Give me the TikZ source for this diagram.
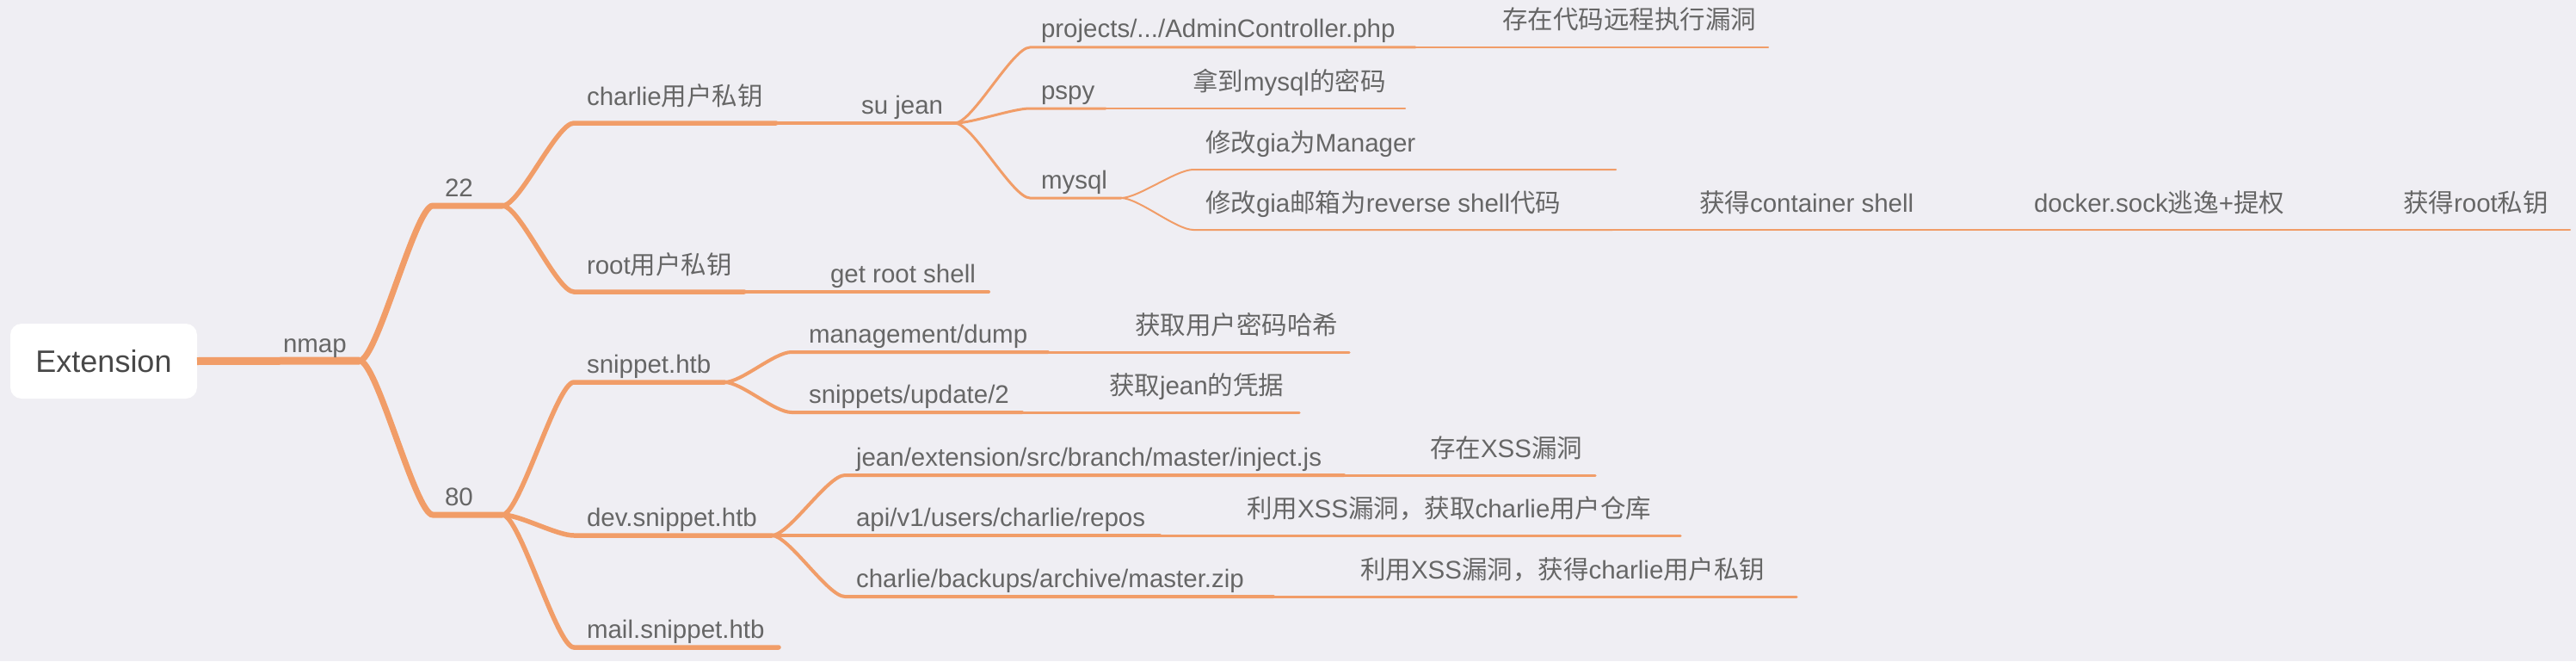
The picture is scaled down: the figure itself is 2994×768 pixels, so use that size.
\documentclass[tikz,border=0pt]{standalone}
\usepackage{fontspec}
\setmainfont{Liberation Sans}
\newfontfamily\cjk{Noto Sans CJK SC}
\newcommand\zhs[1]{{\cjk #1}}
\definecolor{bg}{RGB}{239,238,243}
\definecolor{br}{RGB}{241,157,104}
\definecolor{tx}{RGB}{102,102,102}
\definecolor{txd}{RGB}{72,72,72}
\begin{document}
\begin{tikzpicture}[x=1pt,y=-1pt,
  every node/.style={inner sep=0pt,outer sep=0pt},
  lab/.style={anchor=base west,text=tx,font=\fontsize{29.5}{32}\selectfont},
  rootbox/.style={fill=white,rounded corners=13pt,minimum width=217pt,minimum height=87pt,text=txd,font=\fontsize{36}{40}\selectfont},
  l1/.style={draw=br,line width=9pt,line cap=butt},
  l2/.style={draw=br,line width=7pt,line cap=round},
  l3/.style={draw=br,line width=5.5pt,line cap=round},
  l4/.style={draw=br,line width=4pt,line cap=round},
  l5/.style={draw=br,line width=3pt,line cap=round},
  l6/.style={draw=br,line width=2pt,line cap=round},
  bend/.style={}
]
\fill[bg] (0,0) rectangle (2994,768);
\useasboundingbox (0,0) rectangle (2994,768);

% coordinates
\coordinate (nmap-e) at (418,419);
\coordinate (p22-s) at (503,239); \coordinate (p22-e) at (584,239);
\coordinate (p80-s) at (503,598); \coordinate (p80-e) at (584,598);
\coordinate (ch-s) at (667,143); \coordinate (ch-e) at (902,143);
\coordinate (rt-s) at (667,339); \coordinate (rt-e) at (865,339);
\coordinate (sn-s) at (667,444); \coordinate (sn-e) at (842,444);
\coordinate (dv-s) at (667,622); \coordinate (dv-e) at (897,622);
\coordinate (ml-s) at (667,752); \coordinate (ml-e) at (905,752);
\coordinate (sj-e) at (1110,143);
\coordinate (gr-e) at (1149,339);
\coordinate (md-s) at (920,409); \coordinate (md-e) at (1218,409);
\coordinate (su-s) at (920,479); \coordinate (su-e) at (1188,479);
\coordinate (ij-s) at (982,552); \coordinate (ij-e) at (1562,552);
\coordinate (ap-s) at (982,622); \coordinate (ap-e) at (1348,622);
\coordinate (bk-s) at (982,693); \coordinate (bk-e) at (1480,693);
\coordinate (pj-s) at (1197,55); \coordinate (pj-e) at (1645,55);
\coordinate (ps-s) at (1197,126); \coordinate (ps-e) at (1285,126);
\coordinate (my-s) at (1197,230); \coordinate (my-e) at (1303,230);
\coordinate (hs-e) at (1568,409);
\coordinate (cr-e) at (1510,479);
\coordinate (xs-e) at (1854,552);
\coordinate (rp-e) at (1953,622);
\coordinate (pk-e) at (2088,693);
\coordinate (rc-e) at (2055,55);
\coordinate (pw-e) at (1633,126);
\coordinate (mg-s) at (1387,197); \coordinate (mg-e) at (1878,197);
\coordinate (rv-s) at (1387,267); \coordinate (rv-e) at (1874,267);
\coordinate (cs-e) at (2261,267);
\coordinate (dk-e) at (2691,267);
\coordinate (rk-e) at (2987,267);

% connectors
\draw[l2] (nmap-e) .. controls +(20,0) and +(-20,0) .. (p22-s) -- (p22-e);
\draw[l2] (nmap-e) .. controls +(20,0) and +(-20,0) .. (p80-s) -- (p80-e);
\draw[l3] (p22-e) .. controls +(20,0) and +(-20,0) .. (ch-s) -- (ch-e);
\draw[l3] (p22-e) .. controls +(20,0) and +(-20,0) .. (rt-s) -- (rt-e);
\draw[l3] (p80-e) .. controls +(20,0) and +(-20,0) .. (sn-s) -- (sn-e);
\draw[l3] (p80-e) .. controls +(20,0) and +(-20,0) .. (dv-s) -- (dv-e);
\draw[l3] (p80-e) .. controls +(20,0) and +(-20,0) .. (ml-s) -- (ml-e);
\draw[l4] (ch-e) -- (sj-e);
\draw[l4] (rt-e) -- (gr-e);
\draw[l4] (sn-e) .. controls +(20,0) and +(-20,0) .. (md-s) -- (md-e);
\draw[l4] (sn-e) .. controls +(20,0) and +(-20,0) .. (su-s) -- (su-e);
\draw[l4] (dv-e) .. controls +(20,0) and +(-20,0) .. (ij-s) -- (ij-e);
\draw[l4] (dv-e) -- (ap-s) -- (ap-e);
\draw[l4] (dv-e) .. controls +(20,0) and +(-20,0) .. (bk-s) -- (bk-e);
\draw[l5] (sj-e) .. controls +(20,0) and +(-20,0) .. (pj-s) -- (pj-e);
\draw[l5] (sj-e) .. controls +(20,0) and +(-20,0) .. (ps-s) -- (ps-e);
\draw[l5] (sj-e) .. controls +(20,0) and +(-20,0) .. (my-s) -- (my-e);
\draw[l5] (md-e) -- (hs-e);
\draw[l5] (su-e) -- (cr-e);
\draw[l5] (ij-e) -- (xs-e);
\draw[l5] (ap-e) -- (rp-e);
\draw[l5] (bk-e) -- (pk-e);
\draw[l6] (pj-e) -- (rc-e);
\draw[l6] (ps-e) -- (pw-e);
\draw[l6] (my-e) .. controls +(20,0) and +(-20,0) .. (mg-s) -- (mg-e);
\draw[l6] (my-e) .. controls +(20,0) and +(-20,0) .. (rv-s) -- (rv-e);
\draw[l6] (rv-e) -- (cs-e);
\draw[l6] (cs-e) -- (dk-e);
\draw[l6] (dk-e) -- (rk-e);

% root
\node[rootbox] (root) at (120.5,419.5) {Extension};
\draw[l1] (root.east) -- (nmap-e);

% labels
\node[lab] (t-nmap) at (329,409) {nmap};
\node[lab] (t22) at (517,228) {22};
\node[lab] (t80) at (517,587) {80};
\node[lab] (t-ch) at (682,122) {charlie\zhs{用户私钥}};
\node[lab] (t-rt) at (682,318) {root\zhs{用户私钥}};
\node[lab] (t-sn) at (682,433) {snippet.htb};
\node[lab] (t-dv) at (682,611) {dev.snippet.htb};
\node[lab] (t-ml) at (682,741) {mail.snippet.htb};
\node[lab] (t-sj) at (1001,132) {su jean};
\node[lab] (t-gr) at (965,328) {get root shell};
\node[lab] (t-md) at (940,398) {management/dump};
\node[lab] (t-su) at (940,468) {snippets/update/2};
\node[lab] (t-ij) at (995,541) {jean/extension/src/branch/master/inject.js};
\node[lab] (t-ap) at (995,611) {api/v1/users/charlie/repos};
\node[lab] (t-bk) at (995,682) {charlie/backups/archive/master.zip};
\node[lab] (t-pj) at (1210,44) {projects/.../AdminController.php};
\node[lab] (t-ps) at (1210,115) {pspy};
\node[lab] (t-my) at (1210,219) {mysql};
\node[lab] (t-hs) at (1319,388) {\zhs{获取用户密码哈希}};
\node[lab] (t-cr) at (1289,458) {\zhs{获取}jean\zhs{的凭据}};
\node[lab] (t-xs) at (1662,531) {\zhs{存在}XSS\zhs{漏洞}};
\node[lab] (t-rp) at (1449,601) {\zhs{利用}XSS\zhs{漏洞，获取}charlie\zhs{用户仓库}};
\node[lab] (t-pk) at (1581,672) {\zhs{利用}XSS\zhs{漏洞，获得}charlie\zhs{用户私钥}};
\node[lab] (t-rc) at (1746,34) {\zhs{存在代码远程执行漏洞}};
\node[lab] (t-pw) at (1386,105) {\zhs{拿到}mysql\zhs{的密码}};
\node[lab] (t-mg) at (1401,176) {\zhs{修改}gia\zhs{为}Manager};
\node[lab] (t-rv) at (1401,246) {\zhs{修改}gia\zhs{邮箱为}reverse shell\zhs{代码}};
\node[lab] (t-cs) at (1975,246) {\zhs{获得}container shell};
\node[lab] (t-dk) at (2364,246) {docker.sock\zhs{逃逸}+\zhs{提权}};
\node[lab] (t-rk) at (2793,246) {\zhs{获得}root\zhs{私钥}};
\end{tikzpicture}
\end{document}
